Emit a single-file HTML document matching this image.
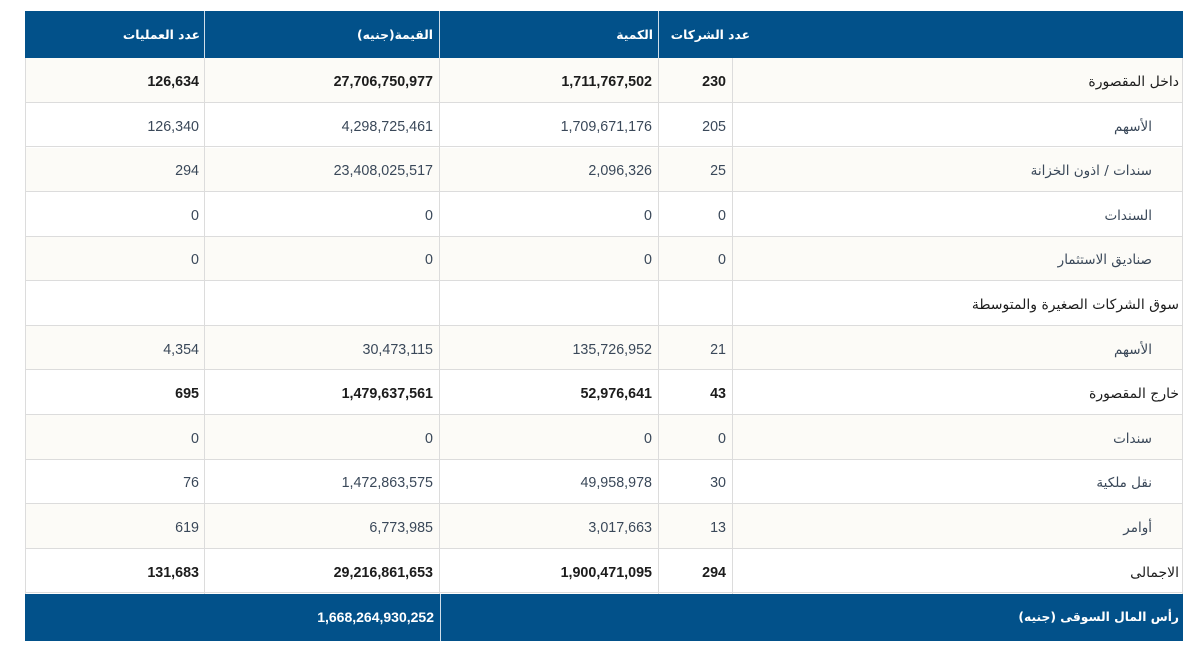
<!DOCTYPE html>
<html lang="ar">
<head>
<meta charset="utf-8">
<style>
  html,body{margin:0;padding:0;background:#fff;}
  body{width:1194px;height:655px;position:relative;overflow:hidden;
       font-family:"Liberation Sans","DejaVu Sans",sans-serif;}
  .abs{position:absolute;}
  .hdr{left:25px;top:11px;width:1158px;height:47px;background:#02518a;}
  .row{position:absolute;left:25px;width:1158px;border-bottom:1px solid #dcdcdc;box-sizing:border-box;}
  .cream{background:#fcfbf7;}
  .white{background:#fff;}
  .c{position:absolute;top:0;height:100%;display:flex;align-items:center;justify-content:flex-end;
     box-sizing:border-box;white-space:nowrap;direction:ltr;}
  .row .c{padding-top:4px;}
  .num{font-size:14.3px;color:#3a4859;}
  .b .num{font-weight:bold;color:#1c1c1c;}
  .lab{font-family:"DejaVu Sans",sans-serif;font-size:13.5px;color:#3a4859;}
  .b .lab{color:#1c1c1c;font-size:14px;}
  .h{font-family:"DejaVu Sans",sans-serif;font-size:12.3px;font-weight:bold;color:#fff;}
  .vl{position:absolute;width:1px;background:#dcdcdc;}
  .hv{position:absolute;width:1px;background:#cfdeea;}
</style>
</head>
<body>

<!-- header -->
<div class="abs hdr">
  <div class="c h" style="left:0;width:175px;"><span dir="rtl">عدد العمليات</span></div>
  <div class="c h" style="left:179px;width:229px;"><span dir="rtl">القيمة(جنيه)</span></div>
  <div class="c h" style="left:414px;width:214px;"><span dir="rtl">الكمية</span></div>
  <div class="c h" style="left:633px;width:92px;"><span dir="rtl">عدد الشركات</span></div>
</div>
<div class="hv" style="left:204px;top:11px;height:47px;"></div>
<div class="hv" style="left:439px;top:11px;height:47px;"></div>
<div class="hv" style="left:658px;top:11px;height:47px;"></div>

<!-- body rows -->
<div class="row cream b" style="top:58.3px;height:44.6px;">
  <div class="c num" style="left:0;width:174px;">126,634</div>
  <div class="c num" style="left:179px;width:229px;">27,706,750,977</div>
  <div class="c num" style="left:414px;width:213px;">1,711,767,502</div>
  <div class="c num" style="left:633px;width:68px;">230</div>
  <div class="c lab" style="left:707px;width:447px;"><span dir="rtl">داخل المقصورة</span></div>
</div>
<div class="row white" style="top:102.9px;height:44.6px;">
  <div class="c num" style="left:0;width:174px;">126,340</div>
  <div class="c num" style="left:179px;width:229px;">4,298,725,461</div>
  <div class="c num" style="left:414px;width:213px;">1,709,671,176</div>
  <div class="c num" style="left:633px;width:68px;">205</div>
  <div class="c lab" style="left:707px;width:420px;"><span dir="rtl">الأسهم</span></div>
</div>
<div class="row cream" style="top:147.5px;height:44.6px;">
  <div class="c num" style="left:0;width:174px;">294</div>
  <div class="c num" style="left:179px;width:229px;">23,408,025,517</div>
  <div class="c num" style="left:414px;width:213px;">2,096,326</div>
  <div class="c num" style="left:633px;width:68px;">25</div>
  <div class="c lab" style="left:707px;width:420px;"><span dir="rtl">سندات / اذون الخزانة</span></div>
</div>
<div class="row white" style="top:192.1px;height:44.6px;">
  <div class="c num" style="left:0;width:174px;">0</div>
  <div class="c num" style="left:179px;width:229px;">0</div>
  <div class="c num" style="left:414px;width:213px;">0</div>
  <div class="c num" style="left:633px;width:68px;">0</div>
  <div class="c lab" style="left:707px;width:420px;"><span dir="rtl">السندات</span></div>
</div>
<div class="row cream" style="top:236.7px;height:44.6px;">
  <div class="c num" style="left:0;width:174px;">0</div>
  <div class="c num" style="left:179px;width:229px;">0</div>
  <div class="c num" style="left:414px;width:213px;">0</div>
  <div class="c num" style="left:633px;width:68px;">0</div>
  <div class="c lab" style="left:707px;width:420px;"><span dir="rtl">صناديق الاستثمار</span></div>
</div>
<div class="row white b" style="top:281.3px;height:44.6px;">
  <div class="c lab" style="left:707px;width:447px;"><span dir="rtl">سوق الشركات الصغيرة والمتوسطة</span></div>
</div>
<div class="row cream" style="top:325.9px;height:44.6px;">
  <div class="c num" style="left:0;width:174px;">4,354</div>
  <div class="c num" style="left:179px;width:229px;">30,473,115</div>
  <div class="c num" style="left:414px;width:213px;">135,726,952</div>
  <div class="c num" style="left:633px;width:68px;">21</div>
  <div class="c lab" style="left:707px;width:420px;"><span dir="rtl">الأسهم</span></div>
</div>
<div class="row white b" style="top:370.5px;height:44.6px;">
  <div class="c num" style="left:0;width:174px;">695</div>
  <div class="c num" style="left:179px;width:229px;">1,479,637,561</div>
  <div class="c num" style="left:414px;width:213px;">52,976,641</div>
  <div class="c num" style="left:633px;width:68px;">43</div>
  <div class="c lab" style="left:707px;width:447px;"><span dir="rtl">خارج المقصورة</span></div>
</div>
<div class="row cream" style="top:415.1px;height:44.6px;">
  <div class="c num" style="left:0;width:174px;">0</div>
  <div class="c num" style="left:179px;width:229px;">0</div>
  <div class="c num" style="left:414px;width:213px;">0</div>
  <div class="c num" style="left:633px;width:68px;">0</div>
  <div class="c lab" style="left:707px;width:420px;"><span dir="rtl">سندات</span></div>
</div>
<div class="row white" style="top:459.7px;height:44.6px;">
  <div class="c num" style="left:0;width:174px;">76</div>
  <div class="c num" style="left:179px;width:229px;">1,472,863,575</div>
  <div class="c num" style="left:414px;width:213px;">49,958,978</div>
  <div class="c num" style="left:633px;width:68px;">30</div>
  <div class="c lab" style="left:707px;width:420px;"><span dir="rtl">نقل ملكية</span></div>
</div>
<div class="row cream" style="top:504.3px;height:44.6px;">
  <div class="c num" style="left:0;width:174px;">619</div>
  <div class="c num" style="left:179px;width:229px;">6,773,985</div>
  <div class="c num" style="left:414px;width:213px;">3,017,663</div>
  <div class="c num" style="left:633px;width:68px;">13</div>
  <div class="c lab" style="left:707px;width:420px;"><span dir="rtl">أوامر</span></div>
</div>
<div class="row white b" style="top:548.9px;height:44.6px;">
  <div class="c num" style="left:0;width:174px;">131,683</div>
  <div class="c num" style="left:179px;width:229px;">29,216,861,653</div>
  <div class="c num" style="left:414px;width:213px;">1,900,471,095</div>
  <div class="c num" style="left:633px;width:68px;">294</div>
  <div class="c lab" style="left:707px;width:447px;"><span dir="rtl">الاجمالى</span></div>
</div>

<!-- vertical body lines -->
<div class="vl" style="left:25px;top:58px;height:536px;"></div>
<div class="vl" style="left:204px;top:58px;height:536px;"></div>
<div class="vl" style="left:439px;top:58px;height:536px;"></div>
<div class="vl" style="left:658px;top:58px;height:536px;"></div>
<div class="vl" style="left:732px;top:58px;height:536px;"></div>
<div class="vl" style="left:1182px;top:58px;height:536px;"></div>

<!-- footer -->
<div class="abs" style="left:25px;top:593.5px;width:1158px;height:47.5px;background:#02518a;">
  <div class="c h" style="left:0;width:409px;font-family:'Liberation Sans',sans-serif;font-size:14px;">1,668,264,930,252</div>
  <div class="c h" style="left:415px;width:739px;"><span dir="rtl">رأس المال السوقى (جنيه)</span></div>
</div>
<div class="hv" style="left:440px;top:593.5px;height:47.5px;"></div>

</body>
</html>
